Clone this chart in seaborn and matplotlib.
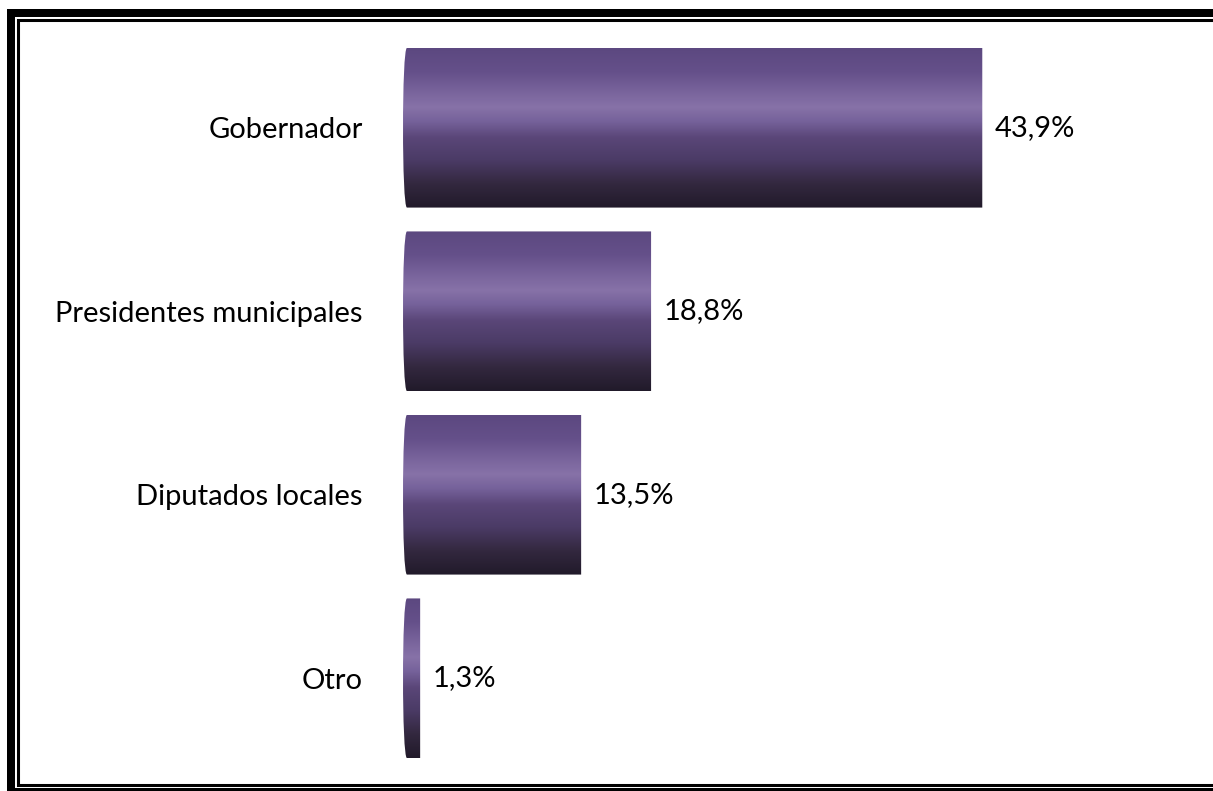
import numpy as np
import pandas as pd
import matplotlib
matplotlib.use("Agg")
import matplotlib.pyplot as plt
import seaborn as sns
from matplotlib.colors import LinearSegmentedColormap
from matplotlib.patches import PathPatch
from matplotlib.path import Path
from matplotlib.lines import Line2D

# datos
categorias = ["Gobernador", "Presidentes municipales", "Diputados locales", "Otro"]
porcentajes = [43.9, 18.8, 13.5, 1.3]
etiquetas = ["43,9%", "18,8%", "13,5%", "1,3%"]

df = pd.DataFrame({"cargo": categorias, "pct": porcentajes})

sns.set_theme(style="white")
plt.rcParams["font.family"] = ["Lato", "DejaVu Sans"]

W, H = 1213, 791
fig = plt.figure(figsize=(W / 100, H / 100), dpi=100)
ax = fig.add_axes([403 / W, 1 - 770 / H, (1200 - 403) / W, 734 / H])

sns.barplot(data=df, x="pct", y="cargo", ax=ax, width=0.87, color="#5e4a7c",
            orient="h")

ax.set_xlim(0, 60.4)
ax.set_ylim(3.5, -0.5)

# degradado tipo cilindro
cmap = LinearSegmentedColormap.from_list("cil", [
    (0.0, "#5c4880"), (0.15, "#65508a"), (0.28, "#7a659d"), (0.37, "#8772a8"),
    (0.46, "#75619a"), (0.56, "#5a4678"), (0.7, "#4b3b66"), (0.85, "#33283f"),
    (1.0, "#211a2a")])
grad = np.linspace(0, 1, 256).reshape(-1, 1)
b = 0.3  # curvatura de la tapa izquierda
for p in ax.patches[:]:
    x0, y0, w, h = p.get_x(), p.get_y(), p.get_width(), p.get_height()
    verts = [(x0 + b, y0), (x0 + w, y0), (x0 + w, y0 + h), (x0 + b, y0 + h),
             (x0 - b / 3, y0 + h), (x0 - b / 3, y0), (x0 + b, y0), (x0 + b, y0)]
    codes = [Path.MOVETO, Path.LINETO, Path.LINETO, Path.LINETO,
             Path.CURVE4, Path.CURVE4, Path.CURVE4, Path.CLOSEPOLY]
    clip = PathPatch(Path(verts, codes), transform=ax.transData,
                     facecolor="none", edgecolor="none")
    ax.add_patch(clip)
    im = ax.imshow(grad, cmap=cmap, aspect="auto", origin="upper",
                   extent=(x0 - 0.5, x0 + w, y0 + h, y0), zorder=2)
    im.set_clip_path(clip)
    p.set_facecolor("none")
    p.set_edgecolor("none")

ax.set_xlim(0, 60.4)
ax.set_ylim(3.5, -0.5)

ax.bar_label(ax.containers[0], labels=etiquetas, padding=9, fontsize=21,
             color="black")

ax.set_xlabel("")
ax.set_ylabel("")
ax.set_xticks([])
ax.tick_params(axis="y", length=0, pad=29, labelsize=21, labelcolor="black")
sns.despine(ax=ax, left=True, bottom=True)

# marco doble (abierto por la derecha)
def marco(x, top, bottom, lw):
    xs = [1300 / W, x / W, x / W, 1300 / W]
    ys = [1 - top / H, 1 - top / H, 1 - bottom / H, 1 - bottom / H]
    fig.add_artist(Line2D(xs, ys, transform=fig.transFigure, color="black",
                          linewidth=lw, solid_joinstyle="miter"))

marco(11, 13, 792, 5.76)
marco(17.5, 20, 785, 2.2)

plt.savefig("out.png", dpi=100)
